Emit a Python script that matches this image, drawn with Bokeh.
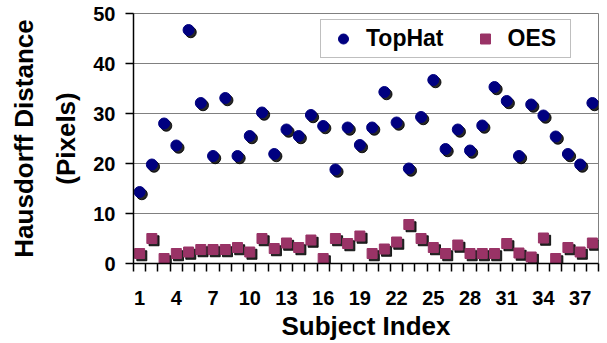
from bokeh.plotting import figure
from bokeh.models import ColumnDataSource, Range1d, FixedTicker, Legend, LegendItem
from bokeh.transform import dodge
from bokeh.embed import file_html
from bokeh.resources import INLINE

subjects = list(range(1, 39))
tophat = [14.3, 19.8, 28.0, 23.6, 46.7, 32.1, 21.5, 33.1, 21.5, 25.5,
          30.2, 21.9, 26.8, 25.5, 29.7, 27.5, 18.8, 27.2, 23.7, 27.2,
          34.3, 28.2, 19.0, 29.3, 36.7, 22.9, 26.8, 22.6, 27.6, 35.3,
          32.5, 21.5, 31.8, 29.6, 25.4, 21.9, 19.8, 32.1]
oes = [2.0, 5.0, 1.0, 2.0, 2.3, 2.8, 2.8, 2.8, 3.2, 2.3,
       5.0, 3.0, 4.1, 3.2, 4.7, 1.0, 5.0, 4.0, 5.5, 2.0,
       2.9, 4.3, 7.8, 5.0, 3.2, 2.0, 3.7, 2.0, 2.0, 2.0,
       4.0, 2.1, 1.3, 5.1, 1.0, 3.2, 2.3, 4.1]
x_tick_labels = [1, 4, 7, 10, 13, 16, 19, 22, 25, 28, 31, 34, 37]
y_ticks = [0, 10, 20, 30, 40, 50]

src = ColumnDataSource(dict(subject=subjects, tophat=tophat, oes=oes))

FONT = "Liberation Sans"

p = figure(width=607, height=343,
           x_range=Range1d(0.5, 38.5), y_range=Range1d(0, 50),
           output_backend="svg", toolbar_location=None,
           min_border_left=133, min_border_right=9,
           min_border_top=13, min_border_bottom=80)

p.outline_line_color = "#808080"
p.outline_line_width = 1
p.background_fill_color = "white"
p.border_fill_color = "white"

# grid
p.xgrid.grid_line_color = None
p.ygrid.grid_line_color = "#808080"
p.ygrid.grid_line_width = 1

# shadows
p.scatter(x=dodge("subject", 0.18), y=dodge("tophat", -0.45), source=src,
          marker="circle", size=11, fill_color="black", line_color="black",
          fill_alpha=0.85, line_alpha=0.85)
p.scatter(x=dodge("subject", 0.18), y=dodge("oes", -0.45), source=src,
          marker="square", size=10, fill_color="black", line_color="black",
          fill_alpha=0.85, line_alpha=0.85)

r1 = p.scatter(x="subject", y="tophat", source=src, marker="circle", size=11,
               fill_color="#000080", line_color="#000080")
r2 = p.scatter(x="subject", y="oes", source=src, marker="square", size=10,
               fill_color="#993366", line_color="#993366")

# x axis
xa = p.xaxis[0]
boundaries = [s - 0.5 for s in subjects] + [subjects[-1] + 0.5]
xa.ticker = FixedTicker(ticks=x_tick_labels, minor_ticks=boundaries)
xa.major_tick_out = 0
xa.major_tick_in = 0
xa.minor_tick_out = 8
xa.minor_tick_in = 0
xa.minor_tick_line_color = "black"
xa.minor_tick_line_width = 1.5
xa.axis_line_color = "black"
xa.axis_line_width = 1.5
xa.major_label_standoff = 19
xa.major_label_text_font = FONT
xa.major_label_text_font_style = "bold"
xa.major_label_text_font_size = "20px"
xa.major_label_text_color = "black"
xa.axis_label = "Subject Index"
xa.axis_label_text_font = FONT
xa.axis_label_text_font_style = "bold"
xa.axis_label_text_font_size = "26px"
xa.axis_label_text_color = "black"
xa.axis_label_standoff = 3

# y axis
ya = p.yaxis[0]
ya.ticker = FixedTicker(ticks=y_ticks)
ya.major_tick_out = 8
ya.major_tick_in = 0
ya.minor_tick_out = 0
ya.minor_tick_in = 0
ya.major_tick_line_color = "black"
ya.major_tick_line_width = 1.5
ya.axis_line_color = "black"
ya.axis_line_width = 1.5
ya.major_label_standoff = 10
ya.major_label_text_font = FONT
ya.major_label_text_font_style = "bold"
ya.major_label_text_font_size = "20px"
ya.major_label_text_color = "black"
ya.axis_label = "Hausdorff Distance\n(Pixels)"
ya.axis_label_text_font = FONT
ya.axis_label_text_font_style = "bold"
ya.axis_label_text_font_size = "26px"
ya.axis_label_text_color = "black"
ya.axis_label_text_line_height = 1.4
ya.axis_label_standoff = 9

legend = Legend(items=[LegendItem(label="TopHat", renderers=[r1]),
                       LegendItem(label="OES", renderers=[r2])],
                orientation="horizontal", location=(187, 205))
legend.border_line_color = "#808080"
legend.border_line_width = 1
legend.background_fill_color = "white"
legend.background_fill_alpha = 1
legend.label_text_font = FONT
legend.label_text_font_style = "bold"
legend.label_text_font_size = "23px"
legend.label_text_color = "black"
legend.label_height = 25
legend.glyph_height = 25
legend.padding = 5
legend.margin = 0
legend.glyph_width = 34
legend.label_standoff = 6
legend.spacing = 24
legend.label_width = 57
p.add_layout(legend, "center")

open("out.html", "w").write(file_html(p, INLINE))
